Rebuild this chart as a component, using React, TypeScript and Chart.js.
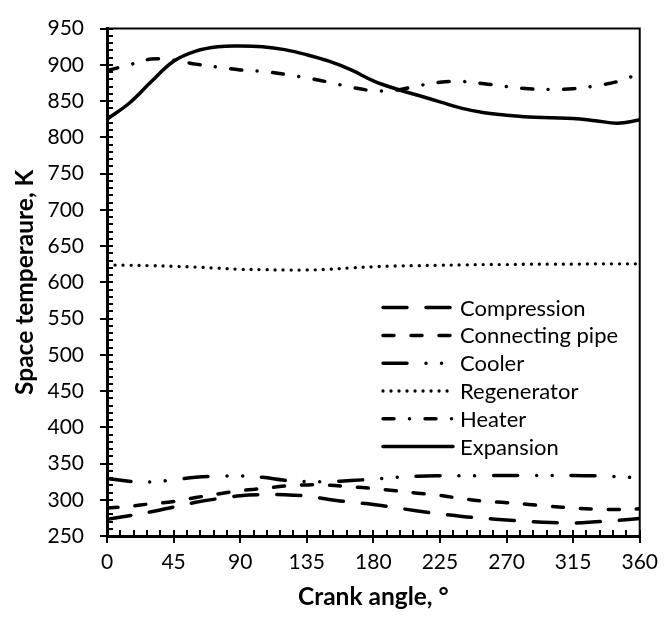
import React, { useEffect, useRef } from 'react';
import { Chart, registerables } from 'chart.js';

Chart.register(...registerables);

// ---- data ----
const angles = [0, 15, 30, 45, 60, 75, 90, 105, 120, 135, 150, 165, 180, 195, 210, 225, 240, 255, 270, 285, 300, 315, 330, 345, 360];

const compression = [273, 278, 283.5, 290, 296.5, 301.5, 305.5, 307, 307, 305, 300.5, 296.5, 293.5, 289, 284.5, 280.5, 277, 274.5, 272, 270, 268.5, 268, 269.5, 271.5, 274];
const connectingPipe = [288.5, 291, 294.5, 297.5, 303, 308, 312.5, 315.5, 319, 320.5, 320, 318, 315.5, 312.5, 309, 306, 301.5, 298, 296, 293.5, 291, 288.5, 287, 286.5, 287.5];
const cooler = [329.5, 325.5, 324.5, 327.5, 331, 332.5, 333, 331, 327, 325, 325, 326.5, 328.5, 331, 332.5, 333, 333, 333.5, 333.5, 333.6, 333.5, 333.5, 333, 332, 330];
const regenerator = [624, 623.5, 623, 622, 621, 619.5, 618, 617.5, 617, 617, 618, 620, 621.5, 622.5, 623, 623.5, 624, 624.5, 624.5, 625, 625, 625, 625.5, 625.5, 625.5];
const heater = [892, 900, 908, 906.5, 901, 897, 893, 891, 887, 882, 876, 869, 864.5, 865, 871, 876, 877, 874, 870, 867, 866, 867, 871, 877, 888];
const expansion = [825, 847, 877, 905, 919, 925, 926, 925, 921, 914, 905, 893, 878, 867, 858, 849, 840, 834, 830.5, 828, 827, 826, 823, 819.5, 824];

const seriesNames = ['Compression', 'Connecting pipe', 'Cooler', 'Regenerator', 'Heater', 'Expansion'];
const seriesValues = [compression, connectingPipe, cooler, regenerator, heater, expansion];

const xTickValues = [0, 45, 90, 135, 180, 225, 270, 315, 360];
const yTickValues = [250, 300, 350, 400, 450, 500, 550, 600, 650, 700, 750, 800, 850, 900, 950];

const xTitle = 'Crank angle, °';
const yTitle = 'Space temperaure, K';

// ---- styles ----
const FONT = 'Lato';
const lineStyles = [
  { borderWidth: 3.5, borderDash: [24, 19] },
  { borderWidth: 3.5, borderDash: [11, 17] },
  { borderWidth: 3.5, borderDash: [24, 19, 0.01, 15.5, 0.01, 19] },
  { borderWidth: 3.3, borderDash: [0.01, 8] },
  { borderWidth: 3.5, borderDash: [11, 15.5, 0.01, 15.5] },
  { borderWidth: 3.5, borderDash: [] },
];

const framePlugin = {
  id: 'frameAndMinorTicks',
  afterDatasetsDraw(chart: any) {
    const { ctx, chartArea, scales } = chart;
    const { left, right, top, bottom } = chartArea;
    ctx.save();
    ctx.strokeStyle = '#000';
    ctx.lineWidth = 2;
    ctx.beginPath();
    ctx.moveTo(left, top);
    ctx.lineTo(right, top);
    ctx.lineTo(right, bottom);
    ctx.stroke();
    ctx.lineWidth = 2;
    ctx.beginPath();
    for (let v = 250; v <= 950; v += 10) {
      const y = Math.round(scales.y.getPixelForValue(v));
      ctx.moveTo(left, y);
      ctx.lineTo(left + 6, y);
    }
    for (let a = 0; a <= 360; a += 9) {
      const x = Math.round(scales.x.getPixelForValue(a));
      ctx.moveTo(x, bottom);
      ctx.lineTo(x, bottom - 6);
    }
    ctx.stroke();
    ctx.restore();
  },
};

const legendPlugin = {
  id: 'insideLegend',
  afterDatasetsDraw(chart: any) {
    const { ctx, chartArea } = chart;
    const x0 = chartArea.left + 276;
    const x1 = x0 + 70;
    const tx = x1 + 7;
    const y0 = chartArea.top + 279;
    const step = 27.8;
    ctx.save();
    ctx.font = `22px ${FONT}`;
    ctx.fillStyle = '#000';
    ctx.textAlign = 'left';
    ctx.textBaseline = 'middle';
    chart.data.datasets.forEach((ds: any, i: number) => {
      const y = y0 + i * step;
      ctx.save();
      ctx.strokeStyle = '#000';
      ctx.lineWidth = ds.borderWidth;
      ctx.lineCap = ds.borderCapStyle || 'butt';
      ctx.setLineDash(ds.borderDash || []);
      ctx.beginPath();
      ctx.moveTo(x0, y);
      ctx.lineTo(x1, y);
      ctx.stroke();
      ctx.restore();
      ctx.fillText(ds.label, tx, y + 1);
    });
    ctx.restore();
  },
};

export default function App() {
  const canvasRef = useRef<HTMLCanvasElement | null>(null);

  useEffect(() => {
    if (!canvasRef.current) return;
    const datasets = seriesNames.map((name, i) => ({
      label: name,
      data: angles.map((a, j) => ({ x: a, y: seriesValues[i][j] })),
      borderColor: '#000',
      backgroundColor: '#000',
      borderWidth: lineStyles[i].borderWidth,
      borderDash: lineStyles[i].borderDash,
      borderCapStyle: 'round' as const,
      pointRadius: 0,
      tension: 0.4,
      fill: false,
    }));

    const chart = new Chart(canvasRef.current, {
      type: 'line',
      data: { datasets },
      plugins: [framePlugin, legendPlugin],
      options: {
        animation: false,
        responsive: false,
        devicePixelRatio: 1,
        layout: { padding: { top: 17, right: 22, left: 0, bottom: 0 } },
        plugins: {
          legend: { display: false },
          tooltip: { enabled: false },
        },
        scales: {
          x: {
            type: 'linear',
            min: 0,
            max: 360,
            afterBuildTicks: (scale: any) => {
              scale.ticks = xTickValues.map((v) => ({ value: v }));
            },
            afterFit: (scale: any) => {
              scale.height = 83;
            },
            ticks: {
              color: '#000',
              font: { family: FONT, size: 21 },
              padding: 7,
              maxRotation: 0,
              autoSkip: false,
            },
            grid: {
              display: true,
              drawOnChartArea: false,
              drawTicks: true,
              tickLength: 7,
              color: '#000',
              lineWidth: 2,
            },
            border: { display: true, color: '#000', width: 3 },
            title: {
              display: true,
              text: xTitle,
              color: '#000',
              font: { family: FONT, size: 24.5, weight: 'bold' },
              padding: { top: 0, bottom: 7 },
            },
          },
          y: {
            type: 'linear',
            min: 250,
            max: 950,
            afterBuildTicks: (scale: any) => {
              scale.ticks = yTickValues.map((v) => ({ value: v }));
            },
            afterFit: (scale: any) => {
              scale.width = 107;
            },
            ticks: {
              color: '#000',
              font: { family: FONT, size: 21 },
              padding: 16,
              autoSkip: false,
            },
            grid: {
              display: true,
              drawOnChartArea: false,
              drawTicks: true,
              tickLength: 7,
              color: '#000',
              lineWidth: 2,
            },
            border: { display: true, color: '#000', width: 3 },
            title: {
              display: true,
              text: yTitle,
              color: '#000',
              font: { family: FONT, size: 24.5, weight: 'bold' },
              padding: { top: 10, bottom: 0 },
            },
          },
        },
      },
    });
    return () => chart.destroy();
  }, []);

  return (
    <div style={{ position: 'fixed', left: 0, top: 0, width: 665, height: 619, background: '#fff' }}>
      <canvas ref={canvasRef} width={665} height={619} style={{ display: 'block', width: 665, height: 619 }} />
    </div>
  );
}
